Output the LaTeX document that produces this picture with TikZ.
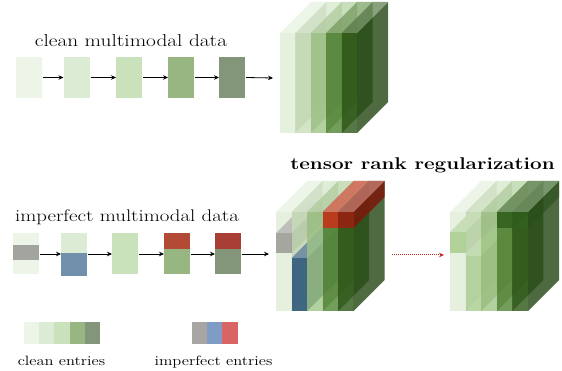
\documentclass[tikz,border=0pt]{standalone}
\usepackage{fontspec}
\usepackage{graphicx}
\usetikzlibrary{arrows.meta}
% input / legend colours
\definecolor{cA}{RGB}{237,245,233}
\definecolor{cB}{RGB}{220,235,212}
\definecolor{cC}{RGB}{202,226,188}
\definecolor{cD}{RGB}{152,182,130}
\definecolor{cE}{RGB}{132,150,122}
\definecolor{inGray}{RGB}{164,164,158}
\definecolor{inBlue}{RGB}{112,144,172}
\definecolor{inRedA}{RGB}{178,74,54}
\definecolor{inRedB}{RGB}{168,62,52}
\definecolor{lgGray}{RGB}{168,166,162}
\definecolor{lgBlue}{RGB}{127,156,196}
\definecolor{lgRed}{RGB}{217,100,100}
% tensor slice colours
\definecolor{tA}{RGB}{222,236,214}
\definecolor{tB}{RGB}{200,222,184}
\definecolor{tC}{RGB}{160,198,134}
\definecolor{tD}{RGB}{80,132,50}
\definecolor{tE}{RGB}{44,86,22}
\definecolor{bkGray}{RGB}{158,158,152}
\definecolor{bkBlue}{RGB}{48,90,124}
\definecolor{bkRed}{RGB}{196,52,26}
\definecolor{bkRedB}{RGB}{150,34,16}
\definecolor{fixA}{RGB}{168,206,142}
\definecolor{fixD}{RGB}{50,96,30}
\definecolor{arrRed}{RGB}{200,40,30}
% slab: [opacity]{x}{y top}{w}{h}{colour}
\newcommand\slab[6][0.8]{%
  \fill[#6!80!black, fill opacity=#1] (#2+#4,#3) -- ++(31,-31) -- ++(0,#5) -- ++(-31,31) -- cycle;
  \fill[#6!70!white, fill opacity=#1] (#2,#3) -- ++(31,-31) -- ++(#4,0) -- ++(-31,31) -- cycle;
  \fill[#6, fill opacity=#1] (#2,#3) rectangle ++(#4,#5);
}
\newcommand\txt[2]{\scalebox{1.24}[1]{\fontsize{#1}{#1}\selectfont #2}}
\tikzset{
  box/.style={minimum width=26pt, minimum height=41pt, inner sep=0pt, outer sep=0pt, draw=none},
  sw/.style={minimum width=15.2pt, minimum height=22pt, inner sep=0pt, outer sep=0pt, draw=none},
  arr/.style={-{Stealth[length=5pt,width=4.5pt]}, line width=0.8pt, black},
  redarr/.style={-{Stealth[length=5pt,width=4.5pt]}, line width=1pt, arrRed, densely dotted},
  lbl/.style={inner sep=0pt, anchor=base},
}
\begin{document}
\begin{tikzpicture}[x=1pt,y=-1pt]
\useasboundingbox (0,0) rectangle (562,371);

% ---------- clean row ----------
\node[lbl] (tclean) at (131,47) {\txt{17.2}{clean multimodal data}};
\node[box, fill=cA] (a1) at (29,77.5) {};
\node[box, fill=cB] (a2) at (76.5,77.5) {};
\node[box, fill=cC] (a3) at (129,77.5) {};
\node[box, fill=cD] (a4) at (181,77.5) {};
\node[box, fill=cE] (a5) at (232,77.5) {};
\coordinate (cubeA) at (273,78);
\draw[arr] ([xshift=1pt]a1.east) -- (a2.west);
\draw[arr] ([xshift=1pt]a2.east) -- (a3.west);
\draw[arr] ([xshift=1pt]a3.east) -- (a4.west);
\draw[arr] ([xshift=1pt]a4.east) -- (a5.west);
\draw[arr] ([xshift=1pt]a5.east) -- (cubeA);

% cube A
\slab{280}{33}{15.4}{100}{tA}
\slab{295.4}{33}{15.4}{100}{tB}
\slab{310.8}{33}{15.4}{100}{tC}
\slab{326.2}{33}{15.4}{100}{tD}
\slab{341.6}{33}{15.4}{100}{tE}

% ---------- imperfect row ----------
\node[lbl] (timp) at (127,222) {\txt{16.8}{imperfect multimodal data}};
\node[box, fill=cA] (b1) at (26,253.5) {};
\fill[inGray] (13,245) rectangle (39,260);
\node[box, fill=cB, minimum height=43pt] (b2) at (74,254.5) {};
\fill[inBlue] (61,253) rectangle (87,276);
\node[box, fill=cC] (b3) at (125,253.5) {};
\node[box, fill=cD] (b4) at (177,253.5) {};
\fill[inRedA] (164,233) rectangle (190,249);
\node[box, fill=cE] (b5) at (228,253.5) {};
\fill[inRedB] (215,233) rectangle (241,249);
\coordinate (cubeB) at (269,254);
\draw[arr] ([xshift=1pt]b1.east|-0,254) -- (b2.west|-0,254);
\draw[arr] ([xshift=1pt]b2.east|-0,254) -- (b3.west|-0,254);
\draw[arr] ([xshift=1pt]b3.east|-0,254) -- (b4.west|-0,254);
\draw[arr] ([xshift=1pt]b4.east|-0,254) -- (b5.west|-0,254);
\draw[arr] ([xshift=1pt]b5.east|-0,254) -- (cubeB);

% cube B
\slab{276}{212}{15.5}{99}{tA}
\slab[0.9]{276}{233}{15.5}{20}{bkGray}
\slab{291.5}{212}{15.5}{99}{tB}
\slab[0.9]{291.5}{258}{15.5}{53}{bkBlue}
\slab{307}{212}{15.5}{99}{tC}
\slab{322.5}{212}{15.5}{99}{tD}
\slab[0.9]{322.5}{212}{15.5}{16}{bkRed}
\slab{338}{212}{15.5}{99}{tE}
\slab[0.9]{338}{212}{15.5}{16}{bkRedB}

% title
\node[lbl] (ttrr) at (422.5,170) {\scalebox{1.215}[1]{\fontsize{17}{17}\selectfont\bfseries tensor rank regularization}};

% dotted arrow
\coordinate (rs) at (392,255);
\coordinate (re) at (444,255);
\draw[redarr] (rs) -- (re);

% cube C
\slab{450}{212}{15.6}{99}{tA}
\slab[0.85]{450}{232}{15.6}{21}{fixA}
\slab{465.6}{212}{15.6}{99}{tB}
\slab[0.6]{465.6}{256}{15.6}{55}{fixA}
\slab{481.2}{212}{15.6}{99}{tC}
\slab{496.8}{212}{15.6}{99}{tD}
\slab[0.85]{496.8}{212}{15.6}{16}{fixD}
\slab{512.4}{212}{15.6}{99}{tE}
\slab[0.6]{512.4}{212}{15.6}{16}{fixD}

% ---------- legend ----------
\node[sw, fill=cA] (l1) at (31.6,333) {};
\node[sw, fill=cB] (l2) at (46.8,333) {};
\node[sw, fill=cC] (l3) at (62,333) {};
\node[sw, fill=cD] (l4) at (77.2,333) {};
\node[sw, fill=cE] (l5) at (92.4,333) {};
\node[sw, fill=lgGray] (m1) at (199.6,333) {};
\node[sw, fill=lgBlue] (m2) at (214.8,333) {};
\node[sw, fill=lgRed] (m3) at (230,333) {};
\node[lbl] (tce) at (61.5,365) {\scalebox{1.22}[1]{\fontsize{13.5}{13.5}\selectfont clean entries}};
\node[lbl] (tie) at (213.5,365) {\scalebox{1.22}[1]{\fontsize{13.5}{13.5}\selectfont imperfect entries}};
\end{tikzpicture}
\end{document}
